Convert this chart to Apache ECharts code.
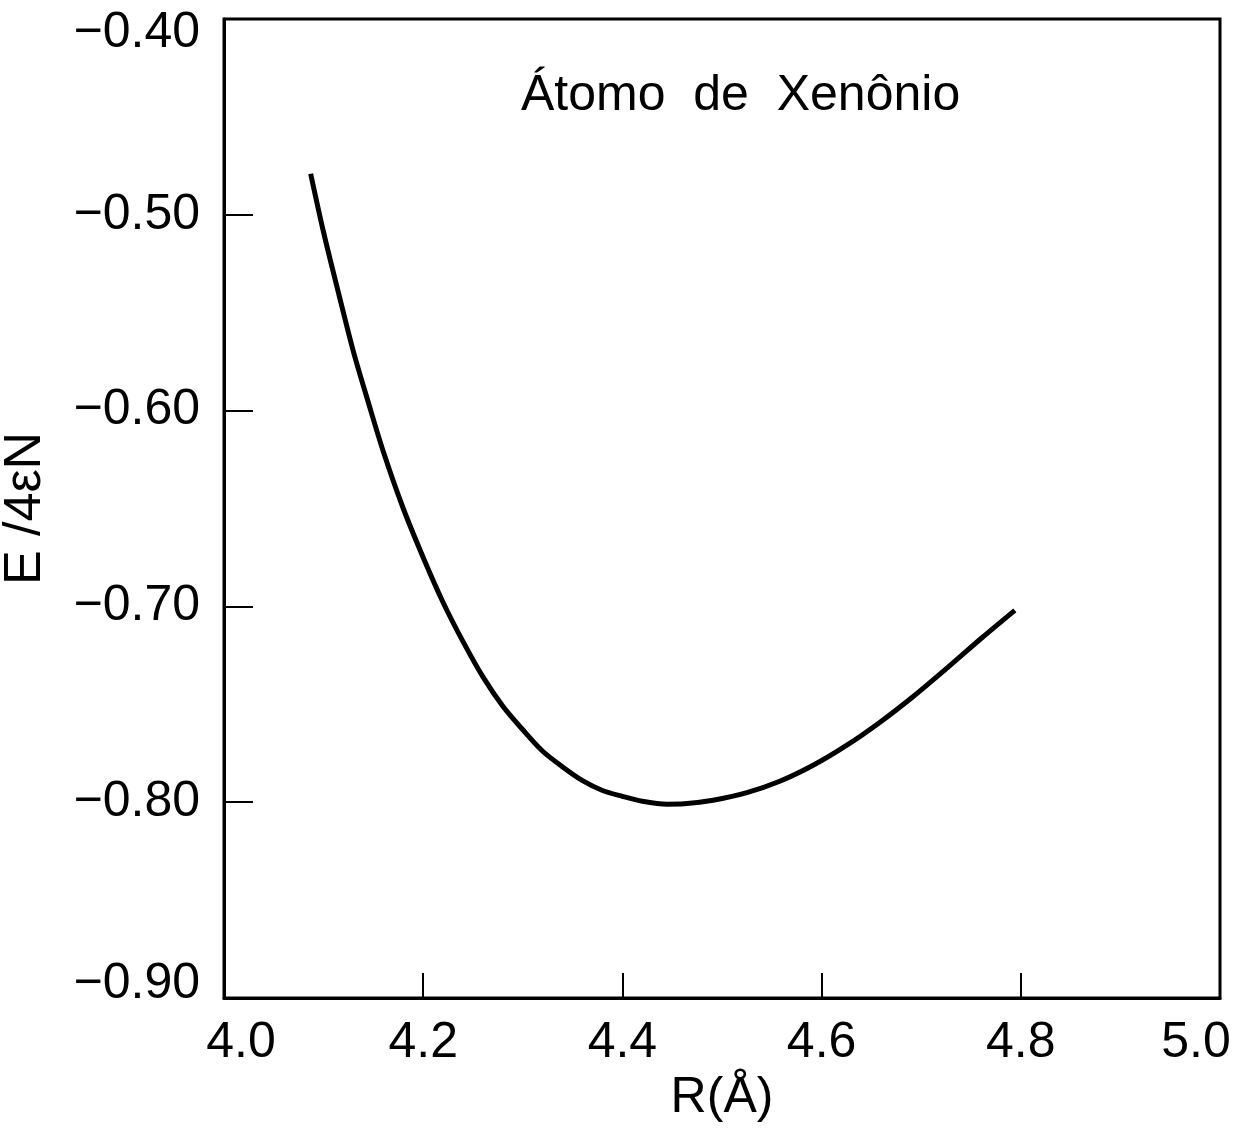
<!DOCTYPE html>
<html>
<head>
<meta charset="utf-8">
<script src="https://cdn.jsdelivr.net/npm/echarts@6/dist/echarts.min.js"></script>
<style>
  html, body { margin: 0; padding: 0; background: #fff; }
  #chart { width: 1245px; height: 1135px; }
</style>
</head>
<body>
<div id="chart"></div>
<script>
// Interatomic distance R (Å)
var rValues = [4.087, 4.100, 4.115, 4.130, 4.145, 4.160, 4.180, 4.200, 4.220, 4.240,
               4.260, 4.280, 4.300, 4.320, 4.340, 4.360, 4.380, 4.400, 4.420, 4.445,
               4.462, 4.491, 4.525, 4.558, 4.592, 4.625, 4.659, 4.692, 4.727, 4.761,
               4.794];
// Reduced energy E/4εN
var energyValues = [-0.479, -0.509, -0.540, -0.570, -0.596, -0.621, -0.650, -0.675, -0.698, -0.718,
                    -0.736, -0.751, -0.763, -0.774, -0.782, -0.789, -0.794, -0.797, -0.7995, -0.801,
                    -0.8008, -0.799, -0.7951, -0.7893, -0.781, -0.771, -0.759, -0.746, -0.731, -0.716,
                    -0.702];
var xTicks = [4.0, 4.2, 4.4, 4.6, 4.8, 5.0];
var yTicks = [-0.90, -0.80, -0.70, -0.60, -0.50, -0.40];
var titleText = 'Átomo  de  Xenônio';
var xName = 'R(Å)';
var yName = 'E /4εN';

var FONT = '"Liberation Sans", Arial, Helvetica, sans-serif';
var curve = rValues.map(function (r, i) { return [r, energyValues[i]]; });

function labelStyle(padding) {
  return { fontFamily: FONT, fontSize: 50, color: '#000', padding: padding };
}

var chart = echarts.init(document.getElementById('chart'), null, { renderer: 'canvas' });
chart.setOption({
  backgroundColor: '#ffffff',
  animation: false,
  title: {
    text: titleText,
    left: 516,
    top: 66,
    textStyle: { fontFamily: FONT, fontSize: 50, fontWeight: 'normal', color: '#000' }
  },
  grid: {
    left: 224, right: 25, top: 19, bottom: 137,
    outerBoundsMode: 'none',
    containLabel: false,
    show: true, borderColor: '#000', borderWidth: 3, backgroundColor: 'transparent'
  },
  xAxis: {
    type: 'value',
    min: xTicks[0], max: xTicks[xTicks.length - 1], interval: 0.2,
    name: xName, nameLocation: 'middle', nameGap: 72,
    nameTextStyle: { fontFamily: FONT, fontSize: 50, color: '#000' },
    axisLine: { show: true, lineStyle: { color: '#000', width: 3 } },
    axisTick: { show: true, inside: true, length: 25, lineStyle: { color: '#000', width: 2 } },
    splitLine: { show: false },
    axisLabel: {
      margin: 20, fontFamily: FONT, fontSize: 50, color: '#000',
      formatter: function (v) {
        var s = v.toFixed(1);
        if (Math.abs(v - xTicks[0]) < 1e-9) return '{first|' + s + '}';
        if (Math.abs(v - xTicks[xTicks.length - 1]) < 1e-9) return '{last|' + s + '}';
        return s;
      },
      rich: {
        first: labelStyle([0, 0, 0, 34]),
        last: labelStyle([0, 48, 0, 0])
      }
    }
  },
  yAxis: {
    type: 'value',
    min: yTicks[0], max: yTicks[yTicks.length - 1], interval: 0.1,
    name: yName, nameLocation: 'middle', nameGap: 172,
    nameTextStyle: { fontFamily: FONT, fontSize: 52, color: '#000' },
    axisLine: { show: true, lineStyle: { color: '#000', width: 3 } },
    axisTick: { show: true, inside: true, length: 29, lineStyle: { color: '#000', width: 2 } },
    splitLine: { show: false },
    axisLabel: {
      margin: 24, fontFamily: FONT, fontSize: 50, color: '#000',
      formatter: function (v) {
        var s = v.toFixed(2).replace('-', '\u2212');
        if (Math.abs(v - yTicks[yTicks.length - 1]) < 1e-9) return '{top|' + s + '}';
        if (Math.abs(v - yTicks[0]) < 1e-9) return '{bottom|' + s + '}';
        return s;
      },
      rich: {
        top: labelStyle([28, 0, 0, 0]),
        bottom: labelStyle([0, 0, 28, 0])
      }
    }
  },
  series: [{
    type: 'line',
    data: curve,
    smooth: 0.3,
    showSymbol: false,
    lineStyle: { color: '#000', width: 5 }
  }]
});
</script>
</body>
</html>
